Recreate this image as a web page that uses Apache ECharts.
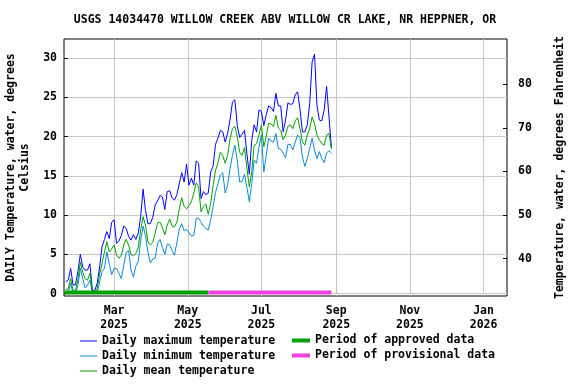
<!DOCTYPE html>
<html><head><meta charset="utf-8">
<script src="https://cdn.jsdelivr.net/npm/echarts@6/dist/echarts.min.js"></script>
<style>html,body{margin:0;padding:0;background:#fff}#c{width:576px;height:384px}</style>
</head><body><div id="c"></div>
<script>
const dates = [
'2025-01-20','2025-01-22','2025-01-24','2025-01-26','2025-01-28','2025-01-30',
'2025-02-01','2025-02-03','2025-02-05','2025-02-07','2025-02-09','2025-02-11','2025-02-13','2025-02-15','2025-02-17','2025-02-19','2025-02-21','2025-02-23','2025-02-25','2025-02-27',
'2025-03-01','2025-03-03','2025-03-05','2025-03-07','2025-03-09','2025-03-11','2025-03-13','2025-03-15','2025-03-17','2025-03-19','2025-03-21','2025-03-23','2025-03-25','2025-03-27','2025-03-29','2025-03-31',
'2025-04-02','2025-04-04','2025-04-06','2025-04-08','2025-04-10','2025-04-12','2025-04-14','2025-04-16','2025-04-18','2025-04-20','2025-04-22','2025-04-24','2025-04-26','2025-04-28','2025-04-30',
'2025-05-02','2025-05-04','2025-05-06','2025-05-08','2025-05-10','2025-05-12','2025-05-14','2025-05-16','2025-05-18','2025-05-20','2025-05-22','2025-05-24','2025-05-26','2025-05-28','2025-05-30',
'2025-06-01','2025-06-03','2025-06-05','2025-06-07','2025-06-09','2025-06-11','2025-06-13','2025-06-15','2025-06-17','2025-06-19','2025-06-21','2025-06-23','2025-06-25','2025-06-27','2025-06-29',
'2025-07-01','2025-07-03','2025-07-05','2025-07-07','2025-07-09','2025-07-11','2025-07-13','2025-07-15','2025-07-17','2025-07-19','2025-07-21','2025-07-23','2025-07-25','2025-07-27','2025-07-29','2025-07-31',
'2025-08-02','2025-08-04','2025-08-06','2025-08-08','2025-08-10','2025-08-12','2025-08-14','2025-08-16','2025-08-18','2025-08-20','2025-08-22','2025-08-24','2025-08-26','2025-08-28'
];
const maxTemp = [
1.5,1.7,3.2,1.1,1.1,2.8,5.0,3.4,3.0,3.0,3.8,0.4,0.4,1.3,3.4,6.0,6.9,7.9,7.0,9.1,
9.4,6.4,6.7,7.4,8.6,8.3,7.3,6.8,7.5,6.9,7.7,9.8,13.3,10.6,8.9,8.9,
9.7,11.3,11.8,12.5,12.3,10.7,13.0,13.1,12.2,11.9,12.6,14.0,15.4,14.2,16.5,
13.8,14.7,13.8,16.9,16.6,12.1,13.0,12.6,12.8,15.5,16.2,19.0,19.8,20.8,20.6,
19.3,20.4,22.1,24.4,24.7,21.4,19.9,20.3,20.8,17.8,15.2,19.5,21.5,20.6,23.4,
23.2,21.4,22.8,23.9,23.7,23.2,25.5,23.9,23.9,20.6,22.1,24.3,24.1,24.2,25.3,25.7,
23.4,20.6,20.6,21.5,24.2,29.5,30.5,24.0,22.1,22.0,23.4,26.4,22.5,18.6
];
const meanTemp = [
0.5,0.6,1.9,0.4,0.4,1.7,4.0,2.7,1.9,1.7,2.6,0.3,0.2,0.6,2.5,3.8,5.3,6.6,5.3,5.7,
6.2,4.9,4.5,4.9,6.2,6.9,6.2,5.0,4.8,5.1,5.9,8.1,9.8,8.7,6.6,6.2,
6.5,7.7,9.0,9.1,8.4,7.5,8.7,9.5,8.6,8.5,9.1,10.8,12.2,11.1,10.8,
11.2,11.7,12.8,14.1,13.6,10.4,11.1,11.4,10.1,11.5,13.8,15.7,16.6,18.0,17.6,
16.6,17.6,19.7,21.0,21.3,20.0,18.0,17.6,18.6,16.0,13.6,15.5,18.9,19.1,20.2,
21.5,18.7,20.0,21.7,21.6,21.3,22.7,21.1,20.8,19.6,20.2,21.3,21.5,21.0,22.0,22.4,
21.0,19.3,18.9,20.2,21.0,22.5,21.7,20.2,19.6,19.1,18.9,20.2,20.4,18.4
];
const minTemp = [
0.2,0.2,1.3,0.0,0.0,1.0,3.2,1.9,0.7,1.1,1.7,0.0,0.0,0.1,1.5,2.8,3.2,5.3,3.8,2.4,
3.2,3.2,2.6,1.9,3.6,5.2,5.5,3.0,2.1,3.5,4.1,6.8,8.6,7.4,5.3,3.9,
4.4,4.5,6.4,6.9,5.9,5.0,6.3,6.2,5.5,4.9,6.5,8.2,8.9,8.0,8.2,
7.8,7.3,7.4,9.6,9.6,9.1,8.6,8.3,8.1,9.4,11.1,12.9,14.0,15.1,15.4,
12.8,13.8,15.9,17.6,18.9,17.0,14.2,14.3,15.2,13.5,11.7,14.0,17.0,16.6,18.7,
20.2,15.5,17.6,19.8,19.4,19.3,20.4,18.5,18.4,17.9,17.3,19.0,19.0,18.3,19.3,20.2,
19.8,17.4,16.2,17.2,18.5,19.8,18.3,17.2,18.1,17.2,16.7,17.9,18.2,17.9
];
const approvedPeriod = ['2025-01-19', '2025-05-18'];
const provisionalPeriod = ['2025-05-18', '2025-08-28'];
const periodLevel = 0.15;
const xTickDates = ['2025-03-01','2025-05-01','2025-07-01','2025-09-01','2025-11-01','2026-01-01'];
const xTickLabels = ['Mar\n2025','May\n2025','Jul\n2025','Sep\n2025','Nov\n2025','Jan\n2026'];
const yTicksC = [0,5,10,15,20,25,30];
const yTicksF = [40,50,60,70,80];
const xRange = ['2025-01-18 12:00:00', '2026-01-20 10:00:00'];
const yRangeC = [-0.31, 32.43];

const FONT = 'DejaVu Sans Mono';
const FS = 11.5;
const ts = s => echarts.time.parse(s).getTime();
const xTickTs = xTickDates.map(ts);
const c2f = c => c * 1.8 + 32;

const chart = echarts.init(document.getElementById('c'), null, {renderer: 'canvas'});
const txt = {fontFamily: FONT, fontSize: FS, fontWeight: 'bold', color: '#000'};
const lineSeries = (name, arr, color) => ({
  name, type: 'line', data: dates.map((d, i) => [ts(d), arr[i]]),
  showSymbol: false, symbol: 'none', color,
  lineStyle: {width: 1, color}, itemStyle: {color}, animation: false
});
const periodSeries = (name, p, color) => ({
  name, type: 'line', data: [[ts(p[0]), periodLevel], [ts(p[1]), periodLevel]],
  showSymbol: false, symbol: 'none', color, clip: false,
  lineStyle: {width: 4, color, cap: 'butt'}, itemStyle: {color}, animation: false, z: 5
});

chart.setOption({
  animation: false,
  graphic: [{
    type: 'text', x: 285, y: 20,
    style: {text: 'USGS 14034470 WILLOW CREEK ABV WILLOW CR LAKE, NR HEPPNER, OR',
      align: 'center', verticalAlign: 'middle', fontFamily: FONT, fontSize: FS, fontWeight: 'bold', fill: '#000'}
  }],
  grid: {left: 64, right: 69, top: 39, height: 257, containLabel: false, outerBoundsMode: 'none',
    show: true, borderColor: '#000', borderWidth: 1, backgroundColor: 'transparent'},
  xAxis: {
    type: 'value', min: ts(xRange[0]), max: ts(xRange[1]),
    axisLine: {show: false},
    axisTick: {show: false, customValues: xTickTs},
    splitLine: {show: true, lineStyle: {color: '#c8c8c8', width: 1}},
    axisLabel: {customValues: xTickTs, ...txt, lineHeight: 14, margin: 8,
      formatter: v => { const i = xTickTs.indexOf(v); return i >= 0 ? xTickLabels[i] : ''; }}
  },
  yAxis: [{
    type: 'value', min: yRangeC[0], max: yRangeC[1], position: 'left',
    name: 'DAILY Temperature, water, degrees\nCelsius', nameLocation: 'middle', nameRotate: 90, nameGap: 31,
    nameTextStyle: {...txt, lineHeight: 14},
    axisLine: {show: false},
    axisTick: {show: true, inside: true, length: 4, customValues: yTicksC, lineStyle: {color: '#000'}},
    splitLine: {show: true, lineStyle: {color: '#c8c8c8', width: 1}},
    axisLabel: {customValues: yTicksC, ...txt, margin: 7}
  }, {
    type: 'value', min: c2f(yRangeC[0]), max: c2f(yRangeC[1]), position: 'right',
    name: 'Temperature, water, degrees Fahrenheit', nameLocation: 'middle', nameRotate: 90, nameGap: 47,
    nameTextStyle: {...txt},
    axisLine: {show: false},
    axisTick: {show: true, inside: true, length: 4, customValues: yTicksF, lineStyle: {color: '#000'}},
    splitLine: {show: false},
    axisLabel: {customValues: yTicksF, ...txt, margin: 11}
  }],
  legend: [{
    data: ['Daily maximum temperature', 'Daily minimum temperature', 'Daily mean temperature'],
    orient: 'vertical', left: 80, top: 333.5, height: 50, padding: 0, icon: 'rect', itemWidth: 17, itemHeight: 1, itemGap: 0,
    selectedMode: false, textStyle: {...txt, lineHeight: 15}
  }, {
    data: ['Period of approved data', 'Period of provisional data'],
    orient: 'vertical', left: 292, top: 333, height: 50, padding: 0, icon: 'rect', itemWidth: 18, itemHeight: 4, itemGap: 0,
    selectedMode: false, textStyle: {...txt, lineHeight: 15}
  }],
  series: [
    lineSeries('Daily maximum temperature', maxTemp, '#0000ff'),
    lineSeries('Daily minimum temperature', minTemp, '#0a88d4'),
    lineSeries('Daily mean temperature', meanTemp, '#00a000'),
    periodSeries('Period of approved data', approvedPeriod, '#00a000'),
    periodSeries('Period of provisional data', provisionalPeriod, '#f040e0')
  ]
});
</script></body></html>
